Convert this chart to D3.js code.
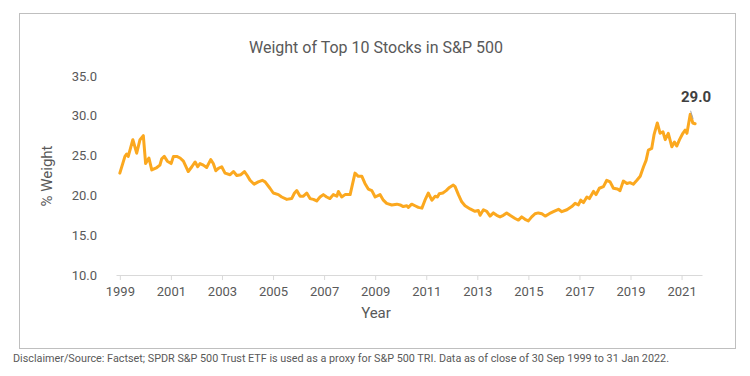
<!DOCTYPE html>
<html>
<head>
<meta charset="utf-8">
<script src="https://cdn.jsdelivr.net/npm/d3@7"></script>
<style>
  body { margin: 0; background: #fff; }
  svg { font-family: Roboto, "Noto Sans", sans-serif; }
</style>
</head>
<body>
<svg id="chart" width="750" height="376"></svg>
<script>
// values (decimal year, % weight of top 10 stocks)
const years = [
  1999.0, 1999.2, 1999.27, 1999.33, 1999.51, 1999.66, 1999.79, 1999.92, 2000.01, 2000.14,
  2000.25, 2000.45, 2000.57, 2000.64, 2000.74, 2000.86, 2001.01, 2001.1, 2001.23, 2001.36,
  2001.49, 2001.68, 2001.82, 2001.95, 2002.05, 2002.14, 2002.27, 2002.4, 2002.56, 2002.66,
  2002.76, 2002.86, 2002.99, 2003.12, 2003.32, 2003.45, 2003.58, 2003.74, 2003.88, 2003.99,
  2004.1, 2004.26, 2004.42, 2004.58, 2004.69, 2004.88, 2005.01, 2005.21, 2005.34, 2005.54,
  2005.73, 2005.84, 2005.93, 2006.06, 2006.19, 2006.32, 2006.45, 2006.58, 2006.71, 2006.84,
  2006.97, 2007.1, 2007.23, 2007.36, 2007.5, 2007.56, 2007.69, 2007.82, 2008.02, 2008.21,
  2008.34, 2008.48, 2008.6, 2008.73, 2008.87, 2009.0, 2009.19, 2009.32, 2009.45, 2009.65,
  2009.85, 2009.98, 2010.1, 2010.24, 2010.3, 2010.43, 2010.56, 2010.69, 2010.83, 2010.95,
  2011.08, 2011.22, 2011.35, 2011.44, 2011.51, 2011.65, 2011.78, 2011.91, 2012.06, 2012.13,
  2012.26, 2012.39, 2012.52, 2012.72, 2012.91, 2013.04, 2013.11, 2013.24, 2013.37, 2013.5,
  2013.63, 2013.76, 2013.89, 2014.02, 2014.15, 2014.28, 2014.48, 2014.61, 2014.74, 2014.87,
  2015.0, 2015.13, 2015.26, 2015.39, 2015.53, 2015.66, 2015.82, 2015.98, 2016.18, 2016.31,
  2016.51, 2016.7, 2016.83, 2016.96, 2017.05, 2017.16, 2017.29, 2017.39, 2017.55, 2017.65,
  2017.78, 2017.94, 2018.07, 2018.2, 2018.33, 2018.49, 2018.59, 2018.72, 2018.86, 2018.98,
  2019.11, 2019.25, 2019.38, 2019.51, 2019.61, 2019.7, 2019.83, 2019.92, 2020.05, 2020.16,
  2020.27, 2020.36, 2020.48, 2020.62, 2020.72, 2020.81, 2020.92, 2021.05, 2021.14, 2021.21,
  2021.34, 2021.44, 2021.53
];
const weights = [
  22.8, 24.9, 25.2, 24.9, 27.0, 25.3, 27.0, 27.5, 24.0, 24.7,
  23.2, 23.5, 23.8, 24.6, 24.9, 24.3, 24.0, 24.9, 24.9, 24.7,
  24.3, 23.0, 23.6, 24.2, 23.6, 24.0, 23.8, 23.5, 24.5, 24.0,
  23.1, 23.4, 23.6, 22.8, 22.6, 23.0, 22.5, 22.6, 23.0, 22.5,
  21.9, 21.4, 21.7, 21.9, 21.7, 20.9, 20.3, 20.1, 19.8, 19.5,
  19.6, 20.3, 20.6, 19.9, 19.9, 20.3, 19.6, 19.5, 19.3, 19.8,
  20.1, 19.8, 19.6, 20.1, 19.9, 20.5, 19.8, 20.1, 20.1, 22.8,
  22.4, 22.4, 21.5, 20.8, 20.6, 19.8, 20.1, 19.4, 19.0, 18.8,
  18.9, 18.8, 18.6, 18.7, 18.5, 18.9, 18.7, 18.5, 18.4, 19.4,
  20.3, 19.4, 19.9, 19.8, 20.2, 20.3, 20.6, 21.0, 21.3, 21.1,
  20.1, 19.2, 18.7, 18.3, 18.0, 18.1, 17.5, 18.2, 18.0, 17.4,
  17.8, 17.5, 17.3, 17.5, 17.8, 17.5, 17.1, 16.9, 17.3, 17.0,
  16.8, 17.3, 17.7, 17.8, 17.7, 17.4, 17.7, 17.95, 18.25, 17.95,
  18.2, 18.6, 19.0, 18.8, 19.4, 19.1, 19.8, 19.6, 20.5, 20.1,
  20.9, 21.1, 21.9, 21.7, 20.9, 20.8, 20.6, 21.8, 21.5, 21.6,
  21.4, 21.9, 22.4, 23.6, 24.4, 25.7, 25.9, 27.6, 29.1, 27.8,
  28.0, 27.0, 27.8, 26.1, 26.7, 26.2, 27.0, 27.8, 28.2, 27.8,
  30.2, 29.1, 29.0
];
const xTicks = [1999, 2001, 2003, 2005, 2007, 2009, 2011, 2013, 2015, 2017, 2019, 2021];
const yTicks = [10, 15, 20, 25, 30, 35];

const data = years.map((yr, i) => ({year: yr, value: weights[i]}));

const svg = d3.select('#chart');
const grey = '#595959';

// outer frame
svg.append('rect')
  .attr('x', 19.5).attr('y', 13.5)
  .attr('width', 716).attr('height', 335)
  .attr('fill', 'none')
  .attr('stroke', '#bfbfbf');

const x = d3.scaleLinear()
  .domain([1998.85, 2021.8])
  .range([116, 702]);
const y = d3.scaleLinear()
  .domain([10, 35])
  .range([275, 76]);

// title
svg.append('text')
  .attr('x', 376).attr('y', 53)
  .attr('text-anchor', 'middle')
  .attr('font-size', 16)
  .attr('fill', grey)
  .text('Weight of Top 10 Stocks in S&P 500');

// x axis
const xAxis = svg.append('g')
  .attr('transform', 'translate(0,275)')
  .call(d3.axisBottom(x).tickValues(xTicks).tickFormat(d3.format('d')).tickSize(5).tickSizeOuter(0).tickPadding(7));
xAxis.select('.domain').attr('stroke', '#d9d9d9');
xAxis.selectAll('.tick line').attr('stroke', '#d9d9d9');
xAxis.selectAll('.tick text')
  .attr('fill', grey)
  .attr('font-size', 13)
  .attr('font-family', 'Roboto, sans-serif');

// y axis (labels only)
const yAxis = svg.append('g')
  .attr('transform', 'translate(97,0)')
  .call(d3.axisLeft(y).tickValues(yTicks).tickFormat(d3.format('.1f')).tickSize(0).tickPadding(0));
yAxis.select('.domain').remove();
yAxis.selectAll('.tick text')
  .attr('fill', grey)
  .attr('font-size', 13)
  .attr('font-family', 'Roboto, sans-serif');

// axis titles
svg.append('text')
  .attr('x', 376).attr('y', 318)
  .attr('text-anchor', 'middle')
  .attr('font-size', 15)
  .attr('fill', grey)
  .text('Year');

svg.append('text')
  .attr('transform', 'translate(52,176) rotate(-90)')
  .attr('text-anchor', 'middle')
  .attr('font-size', 15)
  .attr('fill', grey)
  .text('% Weight');

// the line
const line = d3.line()
  .x(d => x(d.year))
  .y(d => y(d.value));

svg.append('path')
  .datum(data)
  .attr('d', line)
  .attr('fill', 'none')
  .attr('stroke', '#FBA81F')
  .attr('stroke-width', 3)
  .attr('stroke-linejoin', 'round')
  .attr('stroke-linecap', 'round');

// last value label with leader
const last = data[data.length - 1];
const lx = x(last.year), ly = y(last.value);
svg.append('line')
  .attr('x1', lx - 4.5).attr('y1', ly - 13)
  .attr('x2', lx - 2).attr('y2', ly - 5)
  .attr('stroke', '#a6a6a6')
  .attr('stroke-width', 1);
svg.append('text')
  .attr('x', lx + 1).attr('y', ly - 22)
  .attr('text-anchor', 'middle')
  .attr('font-size', 15)
  .attr('font-weight', 'bold')
  .attr('fill', '#404040')
  .text(d3.format('.1f')(last.value));

// footer
svg.append('text')
  .attr('x', 13).attr('y', 362)
  .attr('font-size', 10.8)
  .attr('fill', grey)
  .text('Disclaimer/Source: Factset; SPDR S&P 500 Trust ETF is used as a proxy for S&P 500 TRI. Data as of close of 30 Sep 1999 to 31 Jan 2022.');
</script>
</body>
</html>
